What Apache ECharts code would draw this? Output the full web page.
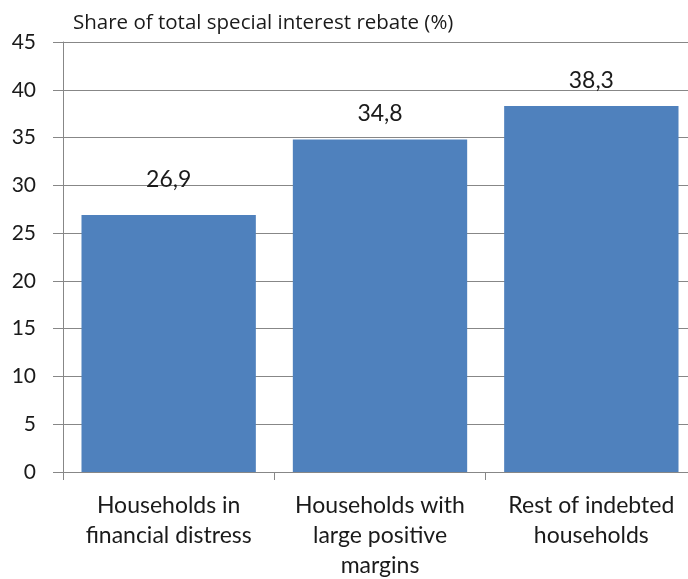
<!DOCTYPE html>
<html>
<head>
<meta charset="utf-8">
<script src="https://cdn.jsdelivr.net/npm/echarts@6/dist/echarts.min.js"></script>
<style>
  html, body { margin: 0; padding: 0; background: #ffffff; }
  #chart { width: 688px; height: 579px; }
</style>
</head>
<body>
<div id="chart"></div>
<script>
// Household groups and their share of the special interest rebate
const categories = [
  'Households in\nfinancial distress',
  'Households with\nlarge positive\nmargins',
  'Rest of indebted\nhouseholds'
];
const shares = [26.9, 34.8, 38.3];
const yTicks = { min: 0, max: 45, interval: 5 };
const axisTitle = 'Share of total special interest rebate (%)';

const FONT = 'Lato, "Open Sans", sans-serif';
const GRAY = '#878787';
const TEXT = '#1a1a1a';

// the first group's value label sits a little higher above its bar
const labelDistance = [24, 14, 14];

const chart = echarts.init(document.getElementById('chart'), null, { renderer: 'canvas' });

chart.setOption({
  animation: false,
  backgroundColor: '#ffffff',
  title: {
    text: axisTitle,
    left: 68,
    top: 8,
    textStyle: { fontFamily: '"Open Sans", sans-serif', fontSize: 20.5, fontWeight: 'normal', color: TEXT }
  },
  grid: { left: 63, right: -9, top: 42, bottom: 107, containLabel: false, outerBoundsMode: 'none' },
  xAxis: {
    type: 'category',
    data: categories,
    axisLine: { lineStyle: { color: GRAY, width: 1 } },
    axisTick: { show: true, alignWithLabel: false, length: 8, lineStyle: { color: GRAY } },
    axisLabel: {
      interval: 0,
      margin: 19,
      fontFamily: FONT,
      fontSize: 23,
      lineHeight: 30,
      color: TEXT
    }
  },
  yAxis: {
    type: 'value',
    min: yTicks.min,
    max: yTicks.max,
    interval: yTicks.interval,
    axisLine: { show: true, lineStyle: { color: GRAY, width: 1 } },
    axisTick: { show: true, length: 10, lineStyle: { color: GRAY } },
    splitLine: { show: true, lineStyle: { color: GRAY, width: 1 } },
    axisLabel: {
      margin: 27,
      fontFamily: FONT,
      fontSize: 21,
      color: TEXT
    }
  },
  series: [{
    type: 'bar',
    data: shares.map((v, i) => ({ value: v, label: { distance: labelDistance[i] } })),
    barCategoryGap: '17.5%',
    itemStyle: { color: '#4F81BD' },
    label: {
      show: true,
      position: 'top',
      fontFamily: FONT,
      fontSize: 23,
      color: TEXT,
      formatter: p => String(p.value).replace('.', ',')
    }
  }]
});
</script>
</body>
</html>
